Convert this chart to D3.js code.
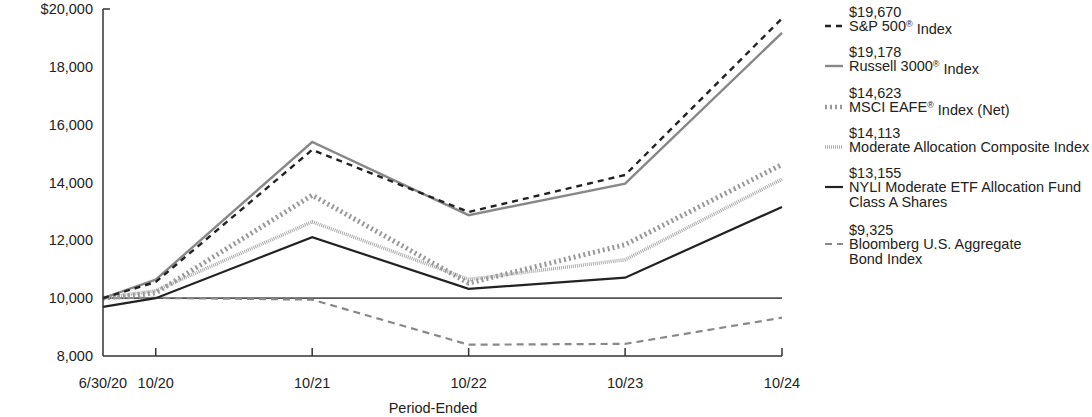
<!DOCTYPE html>
<html><head><meta charset="utf-8">
<script src="https://cdn.jsdelivr.net/npm/d3@7"></script>
<style>
body{margin:0;background:#fff;}
text{font-family:"Liberation Sans",Arial,sans-serif;fill:#222;}
</style></head>
<body><svg id="c" width="1092" height="417"></svg>
<script>
const dates = ["2020-06-30","2020-10-31","2021-10-31","2022-10-31","2023-10-31","2024-10-31"];
const tickLabels = ["6/30/20","10/20","10/21","10/22","10/23","10/24"];
const yTicks = [8000,10000,12000,14000,16000,18000,20000];
const sp500 = [10000,10560,15130,12980,14260,19670];
const russell = [10000,10640,15400,12870,13960,19178];
const eafe = [10000,10180,13560,10520,11850,14623];
const moderate = [10000,10260,12640,10650,11330,14113];
const fund = [9700,10000,12110,10320,10710,13155];
const agg = [10000,10010,9950,8390,8420,9325];
const endLabels = ["$19,670","$19,178","$14,623","$14,113","$13,155","$9,325"];

const FS = 14.5;
const series = [
  {v:sp500, color:"#222", w:2.4, dash:"6,5", name:["S&P 500","® Index"], label:endLabels[0]},
  {v:russell, color:"#888", w:2.4, dash:null, name:["Russell 3000","® Index"], label:endLabels[1]},
  {v:eafe, color:"#999", w:5, dash:"2,3", name:["MSCI EAFE","® Index (Net)"], label:endLabels[2]},
  {v:moderate, color:"#aaa", w:3.5, dash:"1,1", name:["Moderate Allocation Composite Index"], label:endLabels[3]},
  {v:fund, color:"#222", w:2.2, dash:null, name:["NYLI Moderate ETF Allocation Fund","Class A Shares"], label:endLabels[4], multi:true},
  {v:agg, color:"#888", w:2.2, dash:"7,5", name:["Bloomberg U.S. Aggregate","Bond Index"], label:endLabels[5], multi:true}
];

const svg = d3.select("#c");
const parse = d3.timeParse("%Y-%m-%d");
const D = dates.map(parse);
const x = d3.scaleTime().domain([D[0], D[5]]).range([103, 782]);
const y = d3.scaleLinear().domain([8000,20000]).range([356, 9]);

svg.append("line").attr("x1",103).attr("x2",782).attr("y1",y(10000)).attr("y2",y(10000))
  .attr("stroke","#555").attr("stroke-width",1.6);

const line = d3.line().x((d,i)=>x(D[i])).y(d=>y(d));
[5,3,2,4,1,0].forEach(k=>{
  const s = series[k];
  svg.append("path").attr("d", line(s.v)).attr("fill","none")
    .attr("stroke", s.color).attr("stroke-width", s.w)
    .attr("stroke-dasharray", s.dash).attr("stroke-linejoin","miter");
});

svg.append("line").attr("x1",103).attr("x2",103).attr("y1",9).attr("y2",356).attr("stroke","#333").attr("stroke-width",1.5);
svg.append("line").attr("x1",103).attr("x2",110).attr("y1",9).attr("y2",9).attr("stroke","#333").attr("stroke-width",1.5);
svg.append("line").attr("x1",103).attr("x2",782).attr("y1",356).attr("y2",356).attr("stroke","#333").attr("stroke-width",1.5);
D.slice(1).forEach(d=>{
  svg.append("line").attr("x1",x(d)).attr("x2",x(d)).attr("y1",356).attr("y2",348).attr("stroke","#333").attr("stroke-width",1.5);
});

yTicks.forEach(t=>{
  svg.append("text").attr("x",93).attr("y",y(t)).attr("dy","0.35em").attr("text-anchor","end")
    .attr("font-size",FS).text((t===20000?"$":"")+d3.format(",")(t));
});
D.forEach((d,i)=>{
  svg.append("text").attr("x",x(d)).attr("y",383).attr("dy","0.35em").attr("text-anchor","middle")
    .attr("font-size",FS).text(tickLabels[i]);
});
svg.append("text").attr("x",433).attr("y",408).attr("dy","0.35em").attr("text-anchor","middle")
  .attr("font-size",FS).text("Period-Ended");

const legY = [12,52,93,133,173,230];
series.forEach((s,i)=>{
  const y0 = legY[i];
  svg.append("text").attr("x",849).attr("y",y0).attr("dy","0.35em").attr("font-size",FS).text(s.label);
  const ny = y0+14;
  svg.append("line").attr("x1",825).attr("x2",843).attr("y1",ny).attr("y2",ny)
    .attr("stroke",s.color).attr("stroke-width",Math.min(s.w,4.5)).attr("stroke-dasharray",s.dash);
  if (s.multi) {
    s.name.forEach((n,j)=>{
      svg.append("text").attr("x",849).attr("y",ny+j*15).attr("dy","0.35em").attr("font-size",FS).text(n);
    });
  } else if (s.name.length===2) {
    const t = svg.append("text").attr("x",849).attr("y",ny).attr("dy","0.35em").attr("font-size",FS);
    t.append("tspan").text(s.name[0]);
    t.append("tspan").attr("font-size",9).attr("dy","-0.45em").text("®");
    t.append("tspan").attr("dy","0.45em").text(s.name[1].slice(1));
  } else {
    svg.append("text").attr("x",849).attr("y",ny).attr("dy","0.35em").attr("font-size",FS).text(s.name[0]);
  }
});
</script></body></html>
